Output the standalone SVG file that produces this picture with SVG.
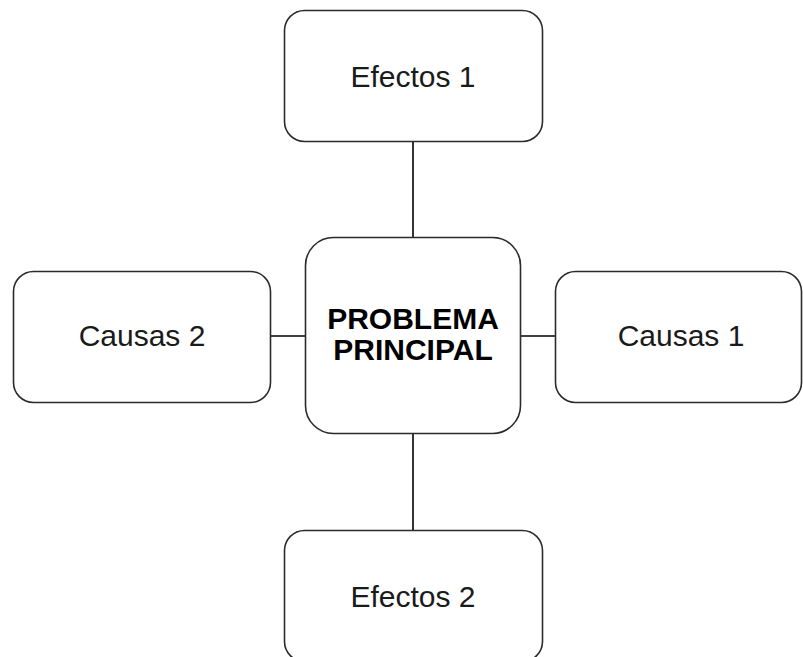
<svg xmlns="http://www.w3.org/2000/svg" width="803" height="657" viewBox="0 0 803 657">
<style>
.box{fill:#fff;stroke:#2b2b2b;stroke-width:1.6}
.lbl{font-family:"Liberation Sans",Arial,sans-serif;font-size:30px;fill:#1a1a1a;text-anchor:middle}
.bold{font-weight:bold;fill:#000}
.conn{stroke:#000;stroke-width:1.6;fill:none}
</style>
<rect width="803" height="657" fill="#fff"/>
<g id="connectors">
<line class="conn" x1="413" y1="141" x2="413" y2="237"/>
<line class="conn" x1="413" y1="433" x2="413" y2="530"/>
<line class="conn" x1="270" y1="336" x2="305" y2="336"/>
<line class="conn" x1="520" y1="336" x2="555" y2="336"/>
</g>
<g id="efectos1">
<rect class="box" x="284.5" y="10.5" width="258" height="131" rx="20"/>
<text class="lbl" x="413" y="87">Efectos 1</text>
</g>
<g id="causas2">
<rect class="box" x="13.5" y="271.5" width="257" height="131" rx="20"/>
<text class="lbl" x="142" y="346">Causas 2</text>
</g>
<g id="problema">
<rect class="box" x="305.5" y="237.5" width="215" height="196" rx="28"/>
<text class="lbl bold" x="413" y="329">PROBLEMA</text>
<text class="lbl bold" x="413" y="360">PRINCIPAL</text>
</g>
<g id="causas1">
<rect class="box" x="555.5" y="271.5" width="246" height="131" rx="20"/>
<text class="lbl" x="681" y="346">Causas 1</text>
</g>
<g id="efectos2">
<rect class="box" x="284.5" y="530.5" width="258" height="131" rx="20"/>
<text class="lbl" x="413" y="607">Efectos 2</text>
</g>
</svg>
